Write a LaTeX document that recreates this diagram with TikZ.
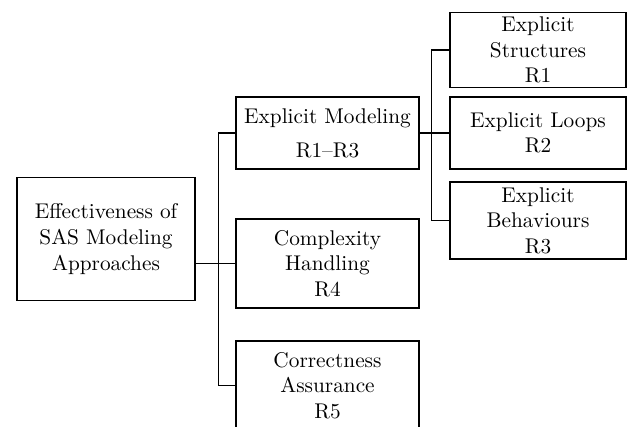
\documentclass[tikz,border=0pt]{standalone}
\usetikzlibrary{calc}
\begin{document}
\begin{tikzpicture}[x=0.4695pt,y=-0.4695pt,
  box/.style={draw,line width=0.6pt,align=center,inner sep=0pt,
    minimum width=#1},
  link/.style={line width=0.6pt}]
\clip (0,0) rectangle (629,426);
\useasboundingbox (0,0) rectangle (629,426);

% root of the tree
\node[box=178*0.4695pt,minimum height=123*0.4695pt] (root) at (106,239)
  {Effectiveness of\\SAS Modeling\\Approaches};

% second level
\node[box=183*0.4695pt,minimum height=72*0.4695pt] (em) at (327.5,133)
  {Explicit Modeling\\[4pt]R1--R3};
\node[box=183*0.4695pt,minimum height=89*0.4695pt] (ch) at (327.5,263.5)
  {Complexity\\Handling\\R4};
\node[box=183*0.4695pt,minimum height=89*0.4695pt] (ca) at (327.5,385.5)
  {Correctness\\Assurance\\R5};

% third level
\node[box=176*0.4695pt,minimum height=75*0.4695pt] (es) at (538,50)
  {Explicit\\Structures\\R1};
\node[box=176*0.4695pt,minimum height=72*0.4695pt] (el) at (538,133)
  {Explicit Loops\\R2};
\node[box=176*0.4695pt,minimum height=77*0.4695pt] (eb) at (538,220.5)
  {Explicit\\Behaviours\\R3};

% connectors
\draw[link] (root.east |- ch.west) -- (ch.west);
\draw[link] (em.west) -- ++(-17,0) coordinate (lspine) |- (ca.west);
\draw[link] (em.east) -- (el.west);
\draw[link] (es.west) -- ++(-18,0) coordinate (rspine) |- (eb.west);
\end{tikzpicture}
\end{document}
